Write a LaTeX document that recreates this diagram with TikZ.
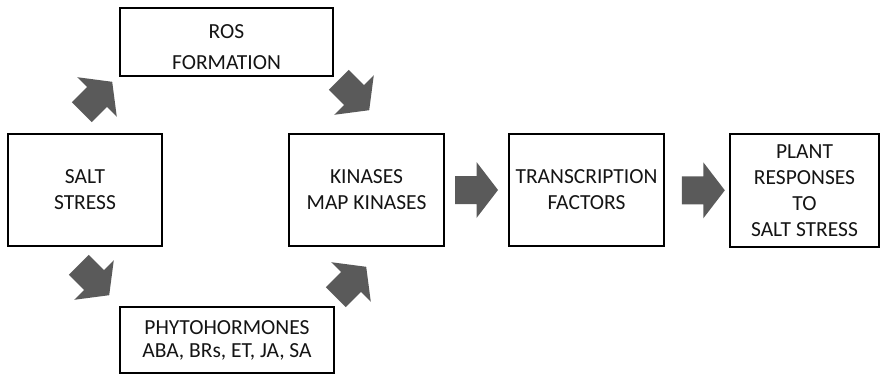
\documentclass[tikz,border=0pt]{standalone}
\usepackage{fontspec}
\setmainfont{Carlito}
\usetikzlibrary{calc}
\begin{document}
\begin{tikzpicture}[x=1pt,y=-1pt,
  stagebox/.style={draw=black, line width=2.9pt, rectangle, inner sep=0pt,
    align=center, text=black!92, font=\fontsize{21.5}{26}\selectfont},
  stagetext/.style={inner sep=0pt, align=center, text=black!92,
    font=\fontsize{21.5}{26}\selectfont},
  blockarrow/.pic={\fill[arrowgray] (-21.5,-14) -- (0,-14) -- (0,-28) -- (21.5,0)
     -- (0,28) -- (0,14) -- (-21.5,14) -- cycle;}
]
\definecolor{arrowgray}{HTML}{5A5A5A}
\useasboundingbox (0,0) rectangle (882,377);

% stages of the salt-stress signalling pathway
\node[stagebox, minimum width=213pt, minimum height=68pt,
      label={[stagetext, yshift=-5pt]center:{ROS\\[5pt]FORMATION}}] (ros) at (226.5,42) {};
\node[stagebox, minimum width=154pt, minimum height=112pt] (salt)  at (85,190)    {SALT\\STRESS};
\node[stagebox, minimum width=214pt, minimum height=66pt] (phyto) at (227,340)   {PHYTOHORMONES\\[-3pt]ABA, BRs, ET, JA, SA};
\node[stagebox, minimum width=155pt, minimum height=112pt] (kin)   at (366.5,190) {KINASES\\MAP KINASES};
\node[stagebox, minimum width=155pt, minimum height=112pt] (tf)    at (586.5,190) {TRANSCRIPTION\\FACTORS};
\node[stagebox, minimum width=149pt, minimum height=113pt] (plant) at (804.5,190.5) {PLANT\\RESPONSES\\TO\\SALT STRESS};

% block arrows between the stages
\coordinate (a1) at (97,97);
\coordinate (a2) at (354,95);
\coordinate (a3) at (94,280);
\coordinate (a4) at (351,282);
\coordinate (a5) at ($(kin.east)!0.5!(tf.west)$);
\coordinate (a6) at ($(tf.east)!0.6!(plant.west)$);
\pic[rotate=45]  at (a1) {blockarrow};
\pic[rotate=-45] at (a2) {blockarrow};
\pic[rotate=-45] at (a3) {blockarrow};
\pic[rotate=45]  at (a4) {blockarrow};
\pic at (a5) {blockarrow};
\pic at (a6) {blockarrow};
\end{tikzpicture}
\end{document}
